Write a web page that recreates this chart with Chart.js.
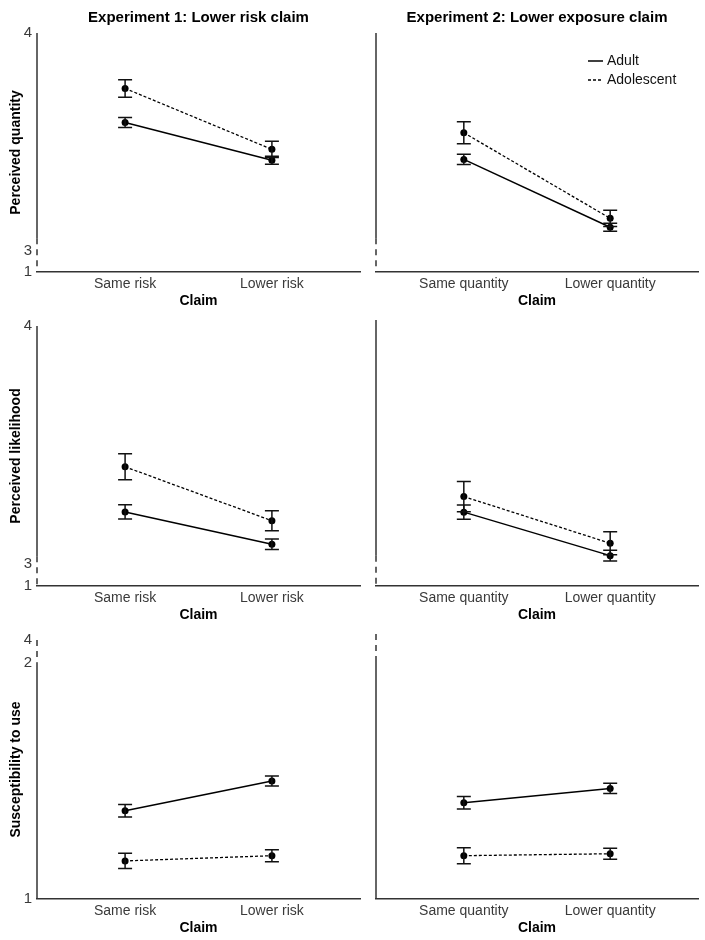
<!DOCTYPE html>
<html>
<head>
<meta charset="utf-8">
<title>Claims and perceptions</title>
<script src="https://cdn.jsdelivr.net/npm/chart.js@4.4.1/dist/chart.umd.min.js"></script>
<style>
  html, body { margin: 0; padding: 0; background: #fff; }
  #wrap { position: relative; width: 705px; height: 940px; }
  .panel { position: absolute; }
</style>
</head>
<body>
<div id="wrap">
  <div class="panel" style="left:0;top:0;width:365px;height:312px"><canvas id="q1"></canvas></div>
  <div class="panel" style="left:365px;top:0;width:340px;height:312px"><canvas id="q2"></canvas></div>
  <div class="panel" style="left:0;top:312px;width:365px;height:314px"><canvas id="l1"></canvas></div>
  <div class="panel" style="left:365px;top:312px;width:340px;height:314px"><canvas id="l2"></canvas></div>
  <div class="panel" style="left:0;top:626px;width:365px;height:313px"><canvas id="s1"></canvas></div>
  <div class="panel" style="left:365px;top:626px;width:340px;height:313px"><canvas id="s2"></canvas></div>
</div>
<script>
var groups = ['Adult', 'Adolescent'];
var claimsExp1 = ['Same risk', 'Lower risk'];
var claimsExp2 = ['Same quantity', 'Lower quantity'];
var experimentTitles = ['Experiment 1: Lower risk claim', 'Experiment 2: Lower exposure claim'];
var measures = ['Perceived quantity', 'Perceived likelihood', 'Susceptibility to use'];
var xTitle = 'Claim';

// means and error bar half-widths
var quantityExp1Adult = [3.590, 3.417];
var quantityExp1AdultErr = [0.023, 0.018];
var quantityExp1Teen = [3.746, 3.467];
var quantityExp1TeenErr = [0.040, 0.037];
var quantityExp2Adult = [3.421, 3.110];
var quantityExp2AdultErr = [0.024, 0.018];
var quantityExp2Teen = [3.543, 3.151];
var quantityExp2TeenErr = [0.050, 0.037];

var likelihoodExp1Adult = [3.217, 3.081];
var likelihoodExp1AdultErr = [0.030, 0.022];
var likelihoodExp1Teen = [3.407, 3.180];
var likelihoodExp1TeenErr = [0.055, 0.042];
var likelihoodExp2Adult = [3.209, 3.030];
var likelihoodExp2AdultErr = [0.029, 0.022];
var likelihoodExp2Teen = [3.273, 3.081];
var likelihoodExp2TeenErr = [0.062, 0.047];

var susceptExp1Adult = [1.373, 1.499];
var susceptExp1AdultErr = [0.026, 0.021];
var susceptExp1Teen = [1.161, 1.183];
var susceptExp1TeenErr = [0.032, 0.025];
var susceptExp2Adult = [1.398, 1.457];
var susceptExp2AdultErr = [0.026, 0.021];
var susceptExp2Teen = [1.179, 1.187];
var susceptExp2TeenErr = [0.033, 0.023];

// broken y axes: tick values and the labels printed at them
var perceptionTicks = [2.905, 3, 4];
var perceptionTickLabels = ['1', '3', '4'];
var susceptTicks = [1, 2, 2.095];
var susceptTickLabels = ['1', '2', '4'];

var FONT = '"Liberation Sans", Arial, Helvetica, sans-serif';
var AXIS_COLOR = '#333';

var errorBarPlugin = {
  id: 'errorBars',
  afterDatasetsDraw: function(chart) {
    var ctx = chart.ctx;
    var xs = chart.scales.x, ys = chart.scales.y;
    ctx.save();
    ctx.strokeStyle = '#111';
    ctx.lineWidth = 1.5;
    chart.data.datasets.forEach(function(ds) {
      ds.data.forEach(function(pt, i) {
        var e = ds.errors[i];
        var px = xs.getPixelForValue(pt.x);
        var top = ys.getPixelForValue(pt.y + e);
        var bot = ys.getPixelForValue(pt.y - e);
        ctx.beginPath();
        ctx.moveTo(px, top); ctx.lineTo(px, bot);
        ctx.moveTo(px - 7, top); ctx.lineTo(px + 7, top);
        ctx.moveTo(px - 7, bot); ctx.lineTo(px + 7, bot);
        ctx.stroke();
      });
    });
    ctx.restore();
  }
};

// y axis line with a dashed stretch marking the break
var axisBreakPlugin = {
  id: 'axisBreak',
  afterDraw: function(chart, args, opts) {
    var ctx = chart.ctx, ys = chart.scales.y;
    var x = chart.chartArea.left;
    var dA = ys.getPixelForValue(opts.from);
    var dB = ys.getPixelForValue(opts.to);
    ctx.save();
    ctx.strokeStyle = AXIS_COLOR;
    ctx.lineWidth = 1.5;
    ctx.beginPath();
    if (dA - ys.top > 0.5) { ctx.moveTo(x, ys.top); ctx.lineTo(x, dA); }
    if (ys.bottom - dB > 0.5) { ctx.moveTo(x, dB); ctx.lineTo(x, ys.bottom); }
    ctx.stroke();
    ctx.setLineDash([6, 5]);
    ctx.beginPath();
    ctx.moveTo(x, dA); ctx.lineTo(x, dB);
    ctx.stroke();
    ctx.restore();
  }
};

var groupLegendPlugin = {
  id: 'groupLegend',
  afterDraw: function(chart, args, opts) {
    if (!opts.show) return;
    var ctx = chart.ctx, area = chart.chartArea;
    ctx.save();
    chart.data.datasets.forEach(function(ds, i) {
      var y = area.top + 28 + i * 19;
      var x = area.right - 110;
      ctx.strokeStyle = '#000';
      ctx.lineWidth = ds.borderWidth;
      ctx.setLineDash(ds.borderDash || []);
      ctx.beginPath(); ctx.moveTo(x, y); ctx.lineTo(x + 15, y); ctx.stroke();
      ctx.setLineDash([]);
      ctx.fillStyle = '#111';
      ctx.font = '14px ' + FONT;
      ctx.textBaseline = 'middle';
      ctx.fillText(ds.label, x + 19, y);
    });
    ctx.restore();
  }
};

function toPoints(values) {
  return values.map(function(v, i) { return { x: i, y: v }; });
}

function makePanel(p) {
  var left = p.col === 0;
  var ticks = p.row === 2 ? susceptTicks : perceptionTicks;
  var tickLabels = p.row === 2 ? susceptTickLabels : perceptionTickLabels;
  var breakFrom = p.row === 2 ? ticks[2] : (p.row === 0 ? 3.06 : 3.03);
  var breakTo = p.row === 2 ? ticks[1] : ticks[0];

  return new Chart(document.getElementById(p.id), {
    type: 'line',
    data: {
      datasets: [{
        label: groups[0],
        data: toPoints(p.adult),
        errors: p.adultErr,
        borderColor: '#000',
        borderWidth: 1.5,
        pointRadius: 3.5,
        pointBackgroundColor: '#000',
        pointBorderWidth: 0,
        tension: 0
      }, {
        label: groups[1],
        data: toPoints(p.teen),
        errors: p.teenErr,
        borderColor: '#000',
        borderWidth: 1.3,
        borderDash: [3, 2],
        pointRadius: 3.5,
        pointBackgroundColor: '#000',
        pointBorderWidth: 0,
        tension: 0
      }]
    },
    options: {
      responsive: true,
      maintainAspectRatio: false,
      animation: false,
      events: [],
      layout: { padding: { top: p.row === 0 ? 0 : 8, right: left ? 5 : 7, left: 0, bottom: 0 } },
      plugins: {
        legend: { display: false },
        tooltip: { enabled: false },
        title: {
          display: p.row === 0,
          text: experimentTitles[p.col],
          fullSize: false,
          color: '#000',
          font: { family: FONT, size: 15, weight: 'bold' },
          padding: { top: 9, bottom: 6 }
        },
        axisBreak: { from: breakFrom, to: breakTo },
        groupLegend: { show: p.row === 0 && p.col === 1 }
      },
      scales: {
        x: {
          type: 'linear',
          min: -0.6,
          max: 1.6,
          grid: { display: false, drawTicks: false },
          border: { display: true, color: AXIS_COLOR, width: 1.5 },
          afterBuildTicks: function(s) { s.ticks = p.claims.map(function(c, i) { return { value: i }; }); },
          afterFit: function(s) { s.height = 40; },
          ticks: {
            autoSkip: false,
            maxRotation: 0,
            padding: 4,
            color: '#3a3a3a',
            font: { family: FONT, size: 14 },
            callback: function(v, i) { return p.claims[i]; }
          },
          title: {
            display: true,
            text: xTitle,
            color: '#000',
            font: { family: FONT, size: 14, weight: 'bold' },
            padding: { top: 0, bottom: 2 }
          }
        },
        y: {
          type: 'linear',
          min: ticks[0],
          max: ticks[2],
          grid: { display: false, drawTicks: false },
          border: { display: false },
          afterBuildTicks: function(s) { s.ticks = ticks.map(function(v) { return { value: v }; }); },
          afterFit: function(s) { s.width = left ? 37 : 11; },
          ticks: {
            display: left,
            autoSkip: false,
            padding: 5,
            color: '#3a3a3a',
            font: { family: FONT, size: 15 },
            callback: function(v, i) { return tickLabels[i]; }
          },
          title: {
            display: left,
            text: measures[p.row],
            color: '#000',
            font: { family: FONT, size: 14, weight: 'bold' },
            padding: { top: 8, bottom: 0 }
          }
        }
      }
    },
    plugins: [errorBarPlugin, axisBreakPlugin, groupLegendPlugin]
  });
}

var panels = [
  { id: 'q1', row: 0, col: 0, claims: claimsExp1, adult: quantityExp1Adult, adultErr: quantityExp1AdultErr, teen: quantityExp1Teen, teenErr: quantityExp1TeenErr },
  { id: 'q2', row: 0, col: 1, claims: claimsExp2, adult: quantityExp2Adult, adultErr: quantityExp2AdultErr, teen: quantityExp2Teen, teenErr: quantityExp2TeenErr },
  { id: 'l1', row: 1, col: 0, claims: claimsExp1, adult: likelihoodExp1Adult, adultErr: likelihoodExp1AdultErr, teen: likelihoodExp1Teen, teenErr: likelihoodExp1TeenErr },
  { id: 'l2', row: 1, col: 1, claims: claimsExp2, adult: likelihoodExp2Adult, adultErr: likelihoodExp2AdultErr, teen: likelihoodExp2Teen, teenErr: likelihoodExp2TeenErr },
  { id: 's1', row: 2, col: 0, claims: claimsExp1, adult: susceptExp1Adult, adultErr: susceptExp1AdultErr, teen: susceptExp1Teen, teenErr: susceptExp1TeenErr },
  { id: 's2', row: 2, col: 1, claims: claimsExp2, adult: susceptExp2Adult, adultErr: susceptExp2AdultErr, teen: susceptExp2Teen, teenErr: susceptExp2TeenErr }
];

panels.forEach(makePanel);
</script>
</body>
</html>
